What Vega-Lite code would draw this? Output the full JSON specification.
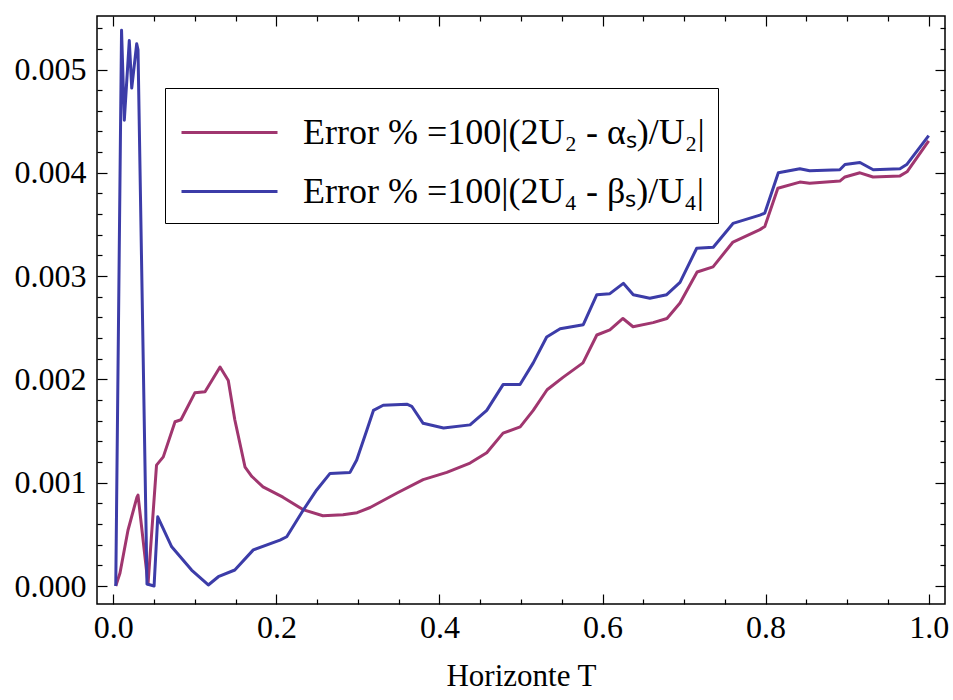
{
  "$schema": "https://vega.github.io/schema/vega-lite/v6.json",
  "width": 848,
  "height": 588,
  "autosize": {"type": "none"},
  "padding": {"left": 97, "top": 16, "right": 8, "bottom": 96},
  "background": "white",
  "config": {
    "view": {"stroke": "black", "strokeWidth": 1.5},
    "font": "Liberation Serif",
    "axis": {
      "domain": false,
      "grid": false,
      "tickColor": "black",
      "tickWidth": 1.2,
      "labelColor": "black",
      "labelFont": "Liberation Serif",
      "labelFontSize": 32,
      "titleFont": "Liberation Serif",
      "titleFontSize": 31,
      "titleFontWeight": "normal",
      "titleColor": "black"
    }
  },
  "data": {
    "values": [
      {"T": 0.003, "E": 0.0, "s": "a"},
      {"T": 0.0082, "E": 0.000126, "s": "a"},
      {"T": 0.018, "E": 0.00054, "s": "a"},
      {"T": 0.029, "E": 0.00086, "s": "a"},
      {"T": 0.0303, "E": 0.00088, "s": "a"},
      {"T": 0.0426, "E": 0.00002, "s": "a"},
      {"T": 0.053, "E": 0.00117, "s": "a"},
      {"T": 0.0613, "E": 0.00125, "s": "a"},
      {"T": 0.0757, "E": 0.00159, "s": "a"},
      {"T": 0.083, "E": 0.00161, "s": "a"},
      {"T": 0.1, "E": 0.00187, "s": "a"},
      {"T": 0.1125, "E": 0.00188, "s": "a"},
      {"T": 0.1309, "E": 0.00212, "s": "a"},
      {"T": 0.141, "E": 0.00199, "s": "a"},
      {"T": 0.149, "E": 0.00161, "s": "a"},
      {"T": 0.1616, "E": 0.00115, "s": "a"},
      {"T": 0.17, "E": 0.00106, "s": "a"},
      {"T": 0.1836, "E": 0.00096, "s": "a"},
      {"T": 0.208, "E": 0.00086, "s": "a"},
      {"T": 0.2326, "E": 0.00074, "s": "a"},
      {"T": 0.257, "E": 0.00068, "s": "a"},
      {"T": 0.2817, "E": 0.00069, "s": "a"},
      {"T": 0.299, "E": 0.00071, "s": "a"},
      {"T": 0.315, "E": 0.00076, "s": "a"},
      {"T": 0.348, "E": 0.0009, "s": "a"},
      {"T": 0.38, "E": 0.00103, "s": "a"},
      {"T": 0.409, "E": 0.0011, "s": "a"},
      {"T": 0.4375, "E": 0.00119, "s": "a"},
      {"T": 0.458, "E": 0.00129, "s": "a"},
      {"T": 0.478, "E": 0.00148, "s": "a"},
      {"T": 0.499, "E": 0.00154, "s": "a"},
      {"T": 0.515, "E": 0.0017, "s": "a"},
      {"T": 0.532, "E": 0.0019, "s": "a"},
      {"T": 0.5515, "E": 0.00202, "s": "a"},
      {"T": 0.576, "E": 0.00216, "s": "a"},
      {"T": 0.593, "E": 0.00243, "s": "a"},
      {"T": 0.609, "E": 0.00248, "s": "a"},
      {"T": 0.625, "E": 0.00259, "s": "a"},
      {"T": 0.6374, "E": 0.00251, "s": "a"},
      {"T": 0.662, "E": 0.00255, "s": "a"},
      {"T": 0.679, "E": 0.00259, "s": "a"},
      {"T": 0.695, "E": 0.00274, "s": "a"},
      {"T": 0.716, "E": 0.00304, "s": "a"},
      {"T": 0.7355, "E": 0.00309, "s": "a"},
      {"T": 0.76, "E": 0.00333, "s": "a"},
      {"T": 0.793, "E": 0.00345, "s": "a"},
      {"T": 0.799, "E": 0.00348, "s": "a"},
      {"T": 0.815, "E": 0.00385, "s": "a"},
      {"T": 0.842, "E": 0.00391, "s": "a"},
      {"T": 0.854, "E": 0.0039, "s": "a"},
      {"T": 0.891, "E": 0.00392, "s": "a"},
      {"T": 0.8973, "E": 0.00396, "s": "a"},
      {"T": 0.9157, "E": 0.004, "s": "a"},
      {"T": 0.9317, "E": 0.00396, "s": "a"},
      {"T": 0.9648, "E": 0.00397, "s": "a"},
      {"T": 0.9734, "E": 0.00401, "s": "a"},
      {"T": 1.0, "E": 0.00431, "s": "a"},
      {"T": 0.003, "E": 0.0, "s": "b"},
      {"T": 0.0101, "E": 0.00538, "s": "b"},
      {"T": 0.0135, "E": 0.00451, "s": "b"},
      {"T": 0.0196, "E": 0.00528, "s": "b"},
      {"T": 0.0226, "E": 0.00482, "s": "b"},
      {"T": 0.0287, "E": 0.00525, "s": "b"},
      {"T": 0.0303, "E": 0.00519, "s": "b"},
      {"T": 0.0413, "E": 0.00002, "s": "b"},
      {"T": 0.05, "E": 0.0, "s": "b"},
      {"T": 0.0545, "E": 0.00067, "s": "b"},
      {"T": 0.0716, "E": 0.00038, "s": "b"},
      {"T": 0.096, "E": 0.000155, "s": "b"},
      {"T": 0.1165, "E": 0.00001, "s": "b"},
      {"T": 0.1288, "E": 0.00009, "s": "b"},
      {"T": 0.149, "E": 0.000155, "s": "b"},
      {"T": 0.1717, "E": 0.00035, "s": "b"},
      {"T": 0.2044, "E": 0.000445, "s": "b"},
      {"T": 0.2127, "E": 0.000477, "s": "b"},
      {"T": 0.233, "E": 0.000736, "s": "b"},
      {"T": 0.2494, "E": 0.00093, "s": "b"},
      {"T": 0.2658, "E": 0.00109, "s": "b"},
      {"T": 0.2903, "E": 0.0011, "s": "b"},
      {"T": 0.2985, "E": 0.00122, "s": "b"},
      {"T": 0.311, "E": 0.00151, "s": "b"},
      {"T": 0.319, "E": 0.0017, "s": "b"},
      {"T": 0.331, "E": 0.00175, "s": "b"},
      {"T": 0.36, "E": 0.00176, "s": "b"},
      {"T": 0.366, "E": 0.00174, "s": "b"},
      {"T": 0.38, "E": 0.001575, "s": "b"},
      {"T": 0.405, "E": 0.00153, "s": "b"},
      {"T": 0.4375, "E": 0.00156, "s": "b"},
      {"T": 0.458, "E": 0.0017, "s": "b"},
      {"T": 0.478, "E": 0.00195, "s": "b"},
      {"T": 0.4988, "E": 0.00195, "s": "b"},
      {"T": 0.515, "E": 0.00216, "s": "b"},
      {"T": 0.5315, "E": 0.00241, "s": "b"},
      {"T": 0.548, "E": 0.00249, "s": "b"},
      {"T": 0.5764, "E": 0.00253, "s": "b"},
      {"T": 0.593, "E": 0.00282, "s": "b"},
      {"T": 0.609, "E": 0.00283, "s": "b"},
      {"T": 0.6255, "E": 0.00293, "s": "b"},
      {"T": 0.6377, "E": 0.00282, "s": "b"},
      {"T": 0.658, "E": 0.002785, "s": "b"},
      {"T": 0.6787, "E": 0.00282, "s": "b"},
      {"T": 0.695, "E": 0.00294, "s": "b"},
      {"T": 0.7155, "E": 0.00327, "s": "b"},
      {"T": 0.7358, "E": 0.00328, "s": "b"},
      {"T": 0.76, "E": 0.00351, "s": "b"},
      {"T": 0.793, "E": 0.00359, "s": "b"},
      {"T": 0.799, "E": 0.00361, "s": "b"},
      {"T": 0.8156, "E": 0.004, "s": "b"},
      {"T": 0.842, "E": 0.00404, "s": "b"},
      {"T": 0.854, "E": 0.00402, "s": "b"},
      {"T": 0.891, "E": 0.00403, "s": "b"},
      {"T": 0.8973, "E": 0.00408, "s": "b"},
      {"T": 0.9157, "E": 0.0041, "s": "b"},
      {"T": 0.932, "E": 0.00403, "s": "b"},
      {"T": 0.9648, "E": 0.00404, "s": "b"},
      {"T": 0.973, "E": 0.00408, "s": "b"},
      {"T": 1.0, "E": 0.00436, "s": "b"}
    ]
  },
  "layer": [
    {
      "mark": {"type": "line", "strokeWidth": 3, "strokeJoin": "round"},
      "encoding": {
        "x": {
          "field": "T", "type": "quantitative",
          "scale": {"domain": [-0.02, 1.02], "nice": false, "zero": false},
          "axis": {
            "orient": "bottom",
            "values": [0, 0.05, 0.1, 0.15, 0.2, 0.25, 0.3, 0.35, 0.4, 0.45, 0.5, 0.55, 0.6, 0.65, 0.7, 0.75, 0.8, 0.85, 0.9, 0.95, 1.0],
            "tickSize": {"condition": {"test": "abs(datum.value*5 - round(datum.value*5)) < 0.001", "value": -10}, "value": -5},
            "labelExpr": "abs(datum.value*5 - round(datum.value*5)) < 0.001 ? format(datum.value, '.1f') : ''",
            "labelPadding": 18,
            "title": "Horizonte T",
            "titlePadding": 18
          }
        },
        "y": {
          "field": "E", "type": "quantitative",
          "scale": {"domain": [-0.000174, 0.005518], "nice": false, "zero": false},
          "axis": {
            "orient": "left",
            "values": [0, 0.0002, 0.0004, 0.0006, 0.0008, 0.001, 0.0012, 0.0014, 0.0016, 0.0018, 0.002, 0.0022, 0.0024, 0.0026, 0.0028, 0.003, 0.0032, 0.0034, 0.0036, 0.0038, 0.004, 0.0042, 0.0044, 0.0046, 0.0048, 0.005, 0.0052, 0.0054],
            "tickSize": {"condition": {"test": "abs(datum.value*1000 - round(datum.value*1000)) < 0.001", "value": -10}, "value": -5},
            "labelExpr": "abs(datum.value*1000 - round(datum.value*1000)) < 0.001 ? format(datum.value, '.3f') : ''",
            "labelPadding": 21,
            "title": null
          }
        },
        "color": {
          "field": "s", "type": "nominal",
          "scale": {"domain": ["a", "b"], "range": ["#A0366F", "#3C3CA8"]},
          "legend": {
            "orient": "none",
            "legendX": 68,
            "legendY": 72,
            "title": null,
            "symbolType": "M-1.6,0H1.6",
            "symbolSize": 3600,
            "symbolOffset": 20,
            "symbolStrokeWidth": 3,
            "labelFont": "Liberation Serif",
            "labelFontSize": 36,
            "labelColor": "black",
            "labelOffset": 42,
            "labelLimit": 1000,
            "strokeColor": "black",
            "fillColor": "white",
            "padding": 13,
            "rowPadding": 9,
            "labelExpr": "datum.label == 'a' ? 'Error % =100|(2U₂ - αₛ)/U₂|' : 'Error % =100|(2U₄ - βₛ)/U₄|'"
          }
        }
      }
    },
    {
      "mark": {"type": "point", "opacity": 0},
      "encoding": {
        "x": {
          "field": "T", "type": "quantitative",
          "axis": {
            "orient": "top",
            "values": [0, 0.05, 0.1, 0.15, 0.2, 0.25, 0.3, 0.35, 0.4, 0.45, 0.5, 0.55, 0.6, 0.65, 0.7, 0.75, 0.8, 0.85, 0.9, 0.95, 1.0],
            "tickSize": {"condition": {"test": "abs(datum.value*5 - round(datum.value*5)) < 0.001", "value": -10}, "value": -5},
            "labels": false,
            "title": null
          }
        },
        "y": {
          "field": "E", "type": "quantitative",
          "axis": {
            "orient": "right",
            "values": [0, 0.0002, 0.0004, 0.0006, 0.0008, 0.001, 0.0012, 0.0014, 0.0016, 0.0018, 0.002, 0.0022, 0.0024, 0.0026, 0.0028, 0.003, 0.0032, 0.0034, 0.0036, 0.0038, 0.004, 0.0042, 0.0044, 0.0046, 0.0048, 0.005, 0.0052, 0.0054],
            "tickSize": {"condition": {"test": "abs(datum.value*1000 - round(datum.value*1000)) < 0.001", "value": -10}, "value": -5},
            "labels": false,
            "title": null
          }
        }
      }
    }
  ],
  "resolve": {"axis": {"x": "independent", "y": "independent"}}
}
